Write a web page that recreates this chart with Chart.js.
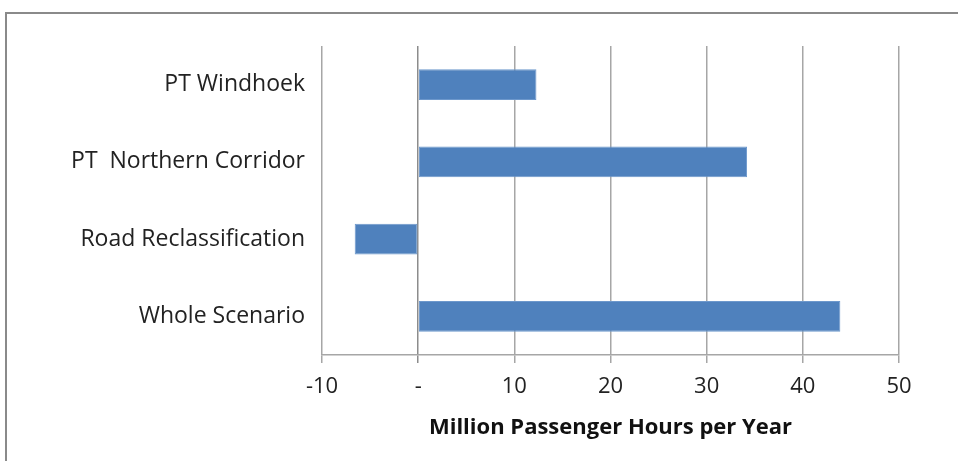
<!DOCTYPE html>
<html lang="en">
<head>
  <meta charset="UTF-8">
  <title>Million Passenger Hours per Year</title>
  <script src="https://cdn.jsdelivr.net/npm/chart.js"></script>
  <style>
    html, body { margin: 0; padding: 0; background: #fff; }
    #wrap { width: 958px; height: 461px; }
  </style>
</head>
<body>
<div id="wrap"><canvas id="grafica" width="958" height="461"></canvas></div>

<script>
// datos
const categorias = ["PT Windhoek", "PT  Northern Corridor", "Road Reclassification", "Whole Scenario"];
const valores = [12.3, 34.2, -6.6, 43.9];
const ejeMin = -10, ejeMax = 50, paso = 10;
const tituloEje = "Million Passenger Hours per Year";

// marco gris exterior (solo arriba e izquierda visibles)
const marco = {
  id: "marco",
  beforeDraw(chart) {
    const c = chart.ctx;
    c.save();
    c.strokeStyle = "#8a8a8a";
    c.lineWidth = 2;
    c.strokeRect(6, 13, chart.width + 20, chart.height + 20);
    c.restore();
  }
};

new Chart(document.getElementById("grafica"), {
  type: "bar",
  data: {
    labels: categorias,
    datasets: [{
      data: valores,
      backgroundColor: "#4f81bd",
      borderColor: "#6d98cc",
      borderWidth: 1,
      borderSkipped: false,
      categoryPercentage: 1,
      barPercentage: 0.4
    }]
  },
  options: {
    indexAxis: "y",
    responsive: false,
    animation: false,
    layout: { padding: { top: 46, right: 59, left: 6, bottom: 0 } },
    plugins: { legend: { display: false }, tooltip: { enabled: false } },
    scales: {
      x: {
        min: ejeMin, max: ejeMax,
        afterFit: s => { s.height = 106; },
        grid: {
          color: ctx => ctx.tick && ctx.tick.value === 0 ? "#8c8c8c" : "#a6a6a6",
          lineWidth: 1.5,
          tickLength: 8
        },
        border: { color: "#a6a6a6", width: 1.5 },
        ticks: {
          stepSize: paso,
          padding: 11,
          color: "#222",
          font: { family: "Open Sans", size: 22 },
          callback: v => v === 0 ? "-" : v
        },
        title: {
          display: true,
          text: tituloEje,
          color: "#111",
          font: { family: "Open Sans", size: 22, weight: "bold" },
          padding: { top: 4, bottom: 20 }
        }
      },
      y: {
        afterFit: s => { s.width = 316; },
        grid: { display: false },
        border: { display: false },
        ticks: {
          padding: 9,
          color: "#222",
          font: { family: "Open Sans", size: 23 }
        }
      }
    }
  },
  plugins: [marco]
});
</script>
</body>
</html>
